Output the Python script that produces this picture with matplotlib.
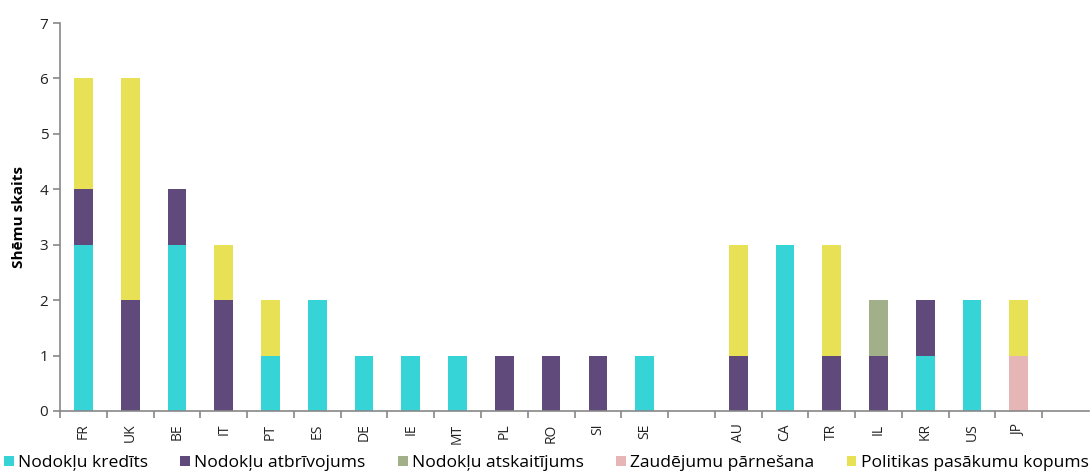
import matplotlib
matplotlib.use("Agg")
import matplotlib.pyplot as plt
import numpy as np
from matplotlib.patches import Patch

categories = ["FR", "UK", "BE", "IT", "PT", "ES", "DE", "IE", "MT", "PL", "RO", "SI", "SE", "",
              "AU", "CA", "TR", "IL", "KR", "US", "JP", ""]
kredits     = [3, 0, 3, 0, 1, 2, 1, 1, 1, 0, 0, 0, 1, 0, 0, 3, 0, 0, 1, 2, 0, 0]
atbrivojums = [1, 2, 1, 2, 0, 0, 0, 0, 0, 1, 1, 1, 0, 0, 1, 0, 1, 1, 1, 0, 0, 0]
atskaitijums= [0, 0, 0, 0, 0, 0, 0, 0, 0, 0, 0, 0, 0, 0, 0, 0, 0, 1, 0, 0, 0, 0]
parnesana   = [0, 0, 0, 0, 0, 0, 0, 0, 0, 0, 0, 0, 0, 0, 0, 0, 0, 0, 0, 0, 1, 0]
kopums      = [2, 4, 0, 1, 1, 0, 0, 0, 0, 0, 0, 0, 0, 0, 2, 0, 2, 0, 0, 0, 1, 0]

series_names = ["Nodokļu kredīts", "Nodokļu atbrīvojums", "Nodokļu atskaitījums",
                "Zaudējumu pārnešana", "Politikas pasākumu kopums"]
colors = ["#36D4D6", "#5F4A7B", "#A2B08A", "#E6B5B6", "#E8E155"]
y_label = "Shēmu skaits"

plt.rcParams['font.family'] = ['Open Sans', 'DejaVu Sans']

fig = plt.figure(figsize=(10.9, 4.71), dpi=100)
ax = fig.add_axes([60/1090, 1-411/471, 1029/1090, (411-23)/471])

x = np.arange(len(categories))
bottom = np.zeros(len(categories))
for vals, c in zip([kredits, atbrivojums, atskaitijums, parnesana, kopums], colors):
    v = np.array(vals, dtype=float)
    ax.bar(x, v, 0.4, bottom=bottom, color=c, edgecolor="none")
    bottom += v

ax.set_xlim(-0.5, len(categories) - 0.5)
ax.set_ylim(0, 7)
ax.set_yticks(range(0, 8))
ax.set_xticks(x)
ax.set_xticklabels(categories, rotation=90, fontsize=10, color="#222222")
ax.tick_params(axis="x", which="major", length=0, pad=9)
ax.set_xticks(np.arange(-0.5, len(categories) - 0.5, 1), minor=True)
ax.tick_params(axis="x", which="minor", length=5, color="#888888", width=1.2, direction="out")
ax.tick_params(axis="y", length=5, color="#888888", width=1.2, labelsize=11, labelcolor="#222222")
for s in ["top", "right"]:
    ax.spines[s].set_visible(False)
for s in ["left", "bottom"]:
    ax.spines[s].set_color("#888888")
    ax.spines[s].set_linewidth(1.2)
ax.set_ylabel(y_label, fontsize=11, fontweight="bold", labelpad=10)

handles = [Patch(facecolor=c, edgecolor="none") for c in colors]
fig.legend(handles, series_names, loc="center left", bbox_to_anchor=(4/1090, 1 - 463/471),
           ncol=5, frameon=False, fontsize=12.6, handlelength=0.55, handleheight=0.55,
           handletextpad=0.25, columnspacing=1.85, borderpad=0, borderaxespad=0)

fig.savefig("out.png", dpi=100)
